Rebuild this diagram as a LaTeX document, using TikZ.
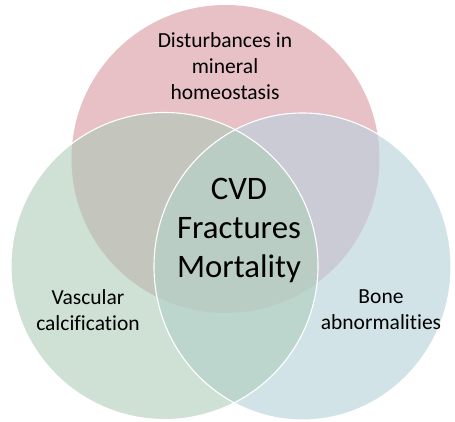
\documentclass[tikz,border=0pt]{standalone}
\usepackage{fontspec}
\setmainfont{Carlito}[Ligatures={NoCommon,NoRare,NoContextual}]
\definecolor{cT}{RGB}{232,193,198}
\definecolor{cL}{RGB}{207,224,213}
\definecolor{cR}{RGB}{210,227,232}
\definecolor{cTL}{RGB}{196,197,189}
\definecolor{cTR}{RGB}{203,203,214}
\definecolor{cLR}{RGB}{189,214,205}
\definecolor{cTLR}{RGB}{186,205,197}
\tikzset{
  lbl/.style={align=center, text=black, inner sep=0pt, font=\fontsize{21.5}{26}\selectfont},
  bigl/.style={align=center, text=black, inner sep=0pt, font=\fontsize{32.8}{39}\selectfont},
  rim/.style={draw=white, line width=1.1pt}
}
\newcommand{\circT}{(225.5,262) circle[radius=154]}
\newcommand{\circL}{(164.5,155) circle[radius=153.5]}
\newcommand{\circR}{(302.5,154.5) ellipse[x radius=148.5, y radius=153.5]}
\begin{document}
\begin{tikzpicture}[x=1pt,y=1pt]
\useasboundingbox (0,0) rectangle (455,421);
\fill[white] (0,0) rectangle (455,421);
% single regions
\fill[cT] \circT;
\fill[cL] \circL;
\fill[cR] \circR;
% pairwise
\begin{scope}\clip \circT; \fill[cTL] \circL; \end{scope}
\begin{scope}\clip \circT; \fill[cTR] \circR; \end{scope}
\begin{scope}\clip \circL; \fill[cLR] \circR; \end{scope}
% triple
\begin{scope}\clip \circT; \clip \circL; \fill[cTLR] \circR; \end{scope}
% white rims
\draw[rim] \circL;
\draw[rim] \circR;
% labels
\node[lbl] (top) at (225,355) {Disturbances in\\mineral\\homeostasis};
\node[bigl] (mid) at (239,191) {CVD\\Fractures\\Mortality};
\node[lbl] (left) at (88,111) {Vascular\\calcification};
\node[lbl] (right) at (381,111) {Bone\\abnormalities};
\end{tikzpicture}
\end{document}
